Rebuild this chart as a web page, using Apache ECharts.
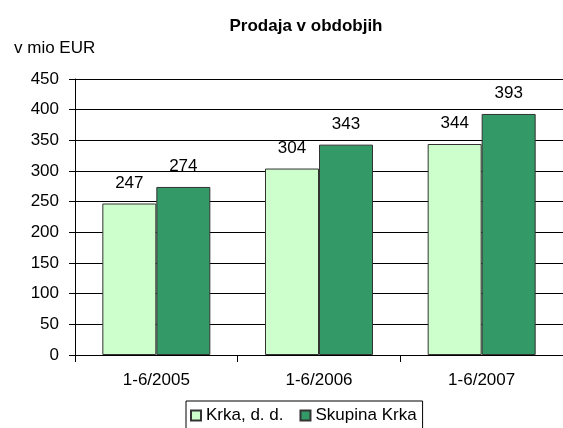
<!DOCTYPE html>
<html><head><meta charset="utf-8">
<script src="https://cdn.jsdelivr.net/npm/echarts@6/dist/echarts.min.js"></script>
<style>html,body{margin:0;padding:0;background:#fff}#c{width:563px;height:428px}</style>
</head><body><div id="c"></div>
<script>
var categories = ['1-6/2005', '1-6/2006', '1-6/2007'];
var krkaDD = [247, 304, 344];
var skupinaKrka = [274, 343, 393];
var seriesNames = ['Krka, d. d.', 'Skupina Krka'];
var titleText = 'Prodaja v obdobjih';
var unitText = 'v mio EUR';
var chart = echarts.init(document.getElementById('c'));
var font = 'Liberation Sans, Arial, sans-serif';
chart.setOption({
  animation: false,
  textStyle: {fontFamily: font},
  graphic: [
    {type: 'text', x: 306, y: 35, style: {text: titleText, font: 'bold 17px Liberation Sans', fill: '#000', align: 'center', verticalAlign: 'bottom'}},
    {type: 'text', x: 14, y: 57, style: {text: unitText, font: '17px Liberation Sans', fill: '#000', align: 'left', verticalAlign: 'bottom'}}
  ],
  legend: {bottom: -2, left: 186, itemWidth: 10, itemHeight: 10, itemGap: 16,
    borderColor: '#000', borderWidth: 1, padding: [6, 6, 6, 4],
    icon: 'rect',
    textStyle: {fontFamily: font, fontSize: 17, color: '#000'},
    data: seriesNames},
  grid: {left: 75, right: -4, top: 79, bottom: 73},
  xAxis: {type: 'category', data: categories,
    axisLine: {lineStyle: {color: '#000'}},
    axisTick: {show: true, length: 7, lineStyle: {color: '#000'}},
    axisLabel: {fontFamily: font, fontSize: 17, color: '#000', margin: 17}},
  yAxis: {type: 'value', min: 0, max: 450, interval: 50,
    axisLine: {show: true, lineStyle: {color: '#000'}},
    axisTick: {show: true, length: 6, lineStyle: {color: '#000'}},
    splitLine: {lineStyle: {color: '#000', width: 1}},
    axisLabel: {fontFamily: font, fontSize: 17, color: '#000', margin: 16}},
  series: [
    {name: seriesNames[0], type: 'bar', data: krkaDD, barWidth: 54, barGap: '0%',
     itemStyle: {color: '#CCFFCC', borderColor: '#333', borderWidth: 1},
     label: {show: true, position: 'top', distance: 12, fontFamily: font, fontSize: 17, color: '#000'}},
    {name: seriesNames[1], type: 'bar', data: skupinaKrka, barWidth: 54,
     itemStyle: {color: '#339966', borderColor: '#333', borderWidth: 1},
     label: {show: true, position: 'top', distance: 12, fontFamily: font, fontSize: 17, color: '#000'}}
  ]
});
</script></body></html>
